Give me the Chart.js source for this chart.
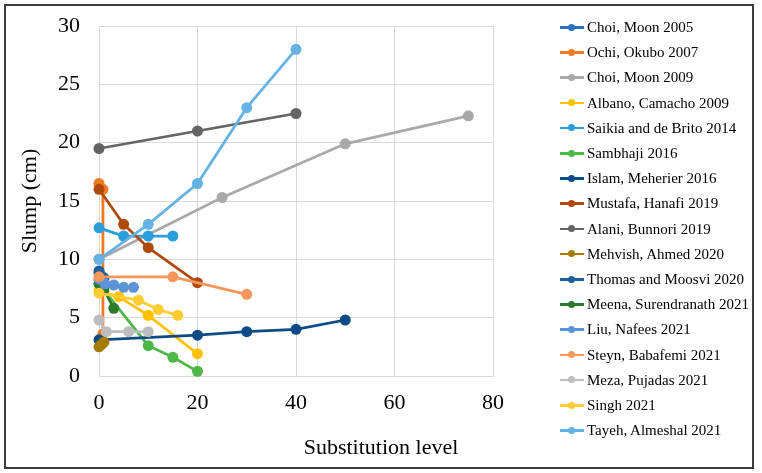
<!DOCTYPE html>
<html>
<head>
<meta charset="utf-8">
<script src="https://cdn.jsdelivr.net/npm/chart.js@4.4.0/dist/chart.umd.min.js"></script>
<style>
  body { margin: 0; background: #fff; }
  #wrap { position: relative; width: 762px; height: 473px; font-family: "Liberation Serif", "Times New Roman", serif; }
  #frame { position: absolute; left: 4px; top: 4px; width: 746px; height: 461px; border: 2px solid #3c3c3c; pointer-events: none; }
  #chart { position: absolute; left: 0; top: 0; }
  #xtitle { position: absolute; top: 434px; left: 0; width: 762px; text-align: center; font-size: 22px; color: #000; }
  #legend { position: absolute; left: 0; top: 0; }
  .item { position: absolute; left: 560px; height: 20px; font-size: 15px; line-height: 20px; color: #000; white-space: nowrap; }
  .mark { position: absolute; left: 0; top: 9px; width: 24px; height: 2.5px; }
  .dot { position: absolute; left: 8px; top: 6.5px; width: 7px; height: 7px; border-radius: 50%; }
  .label { position: absolute; left: 27px; top: 0; }
</style>
</head>
<body>
<div id="wrap">
  <canvas id="chart" width="762" height="473"></canvas>
  <div id="xtitle">Substitution level</div>
  <div id="legend"></div>
  <div id="frame"></div>
</div>
<script>
// series names and colours, in Excel plotting order
const seriesNames = [
  'Choi, Moon 2005', 'Ochi, Okubo 2007', 'Choi, Moon 2009', 'Albano, Camacho 2009',
  'Saikia and de Brito 2014', 'Sambhaji 2016', 'Islam, Meherier 2016', 'Mustafa, Hanafi 2019',
  'Alani, Bunnori 2019', 'Mehvish, Ahmed 2020', 'Thomas and Moosvi 2020', 'Meena, Surendranath 2021',
  'Liu, Nafees 2021', 'Steyn, Babafemi 2021', 'Meza, Pujadas 2021', 'Singh 2021', 'Tayeh, Almeshal 2021'
];
const seriesColors = [
  '#2a72bf', '#f07a22', '#a9a9a9', '#ffc000', '#2a9fdb', '#4db848', '#0d4a86', '#b04a0c',
  '#646464', '#a67c00', '#1f5f9c', '#2c7a2c', '#5d93d8', '#f7965a', '#bdbdbd', '#ffcc33', '#64b3e4'
];

// [substitution level, slump cm]
const choiMoon2005 = [[0, 8.8], [0.5, 8.6]];
const ochiOkubo2007 = [[0, 16.5], [0.8, 16.0], [0.8, 3.6]];
const choiMoon2009 = [[0, 10.0], [25, 15.3], [50, 19.9], [75, 22.3]];
const albanoCamacho2009 = [[0, 7.3], [4, 6.8], [10, 5.2], [20, 1.9]];
const saikiaBrito2014 = [[0, 12.7], [5, 12.0], [10, 12.0], [15, 12.0]];
const sambhaji2016 = [[0, 7.9], [10, 2.6], [15, 1.6], [20, 0.4]];
const islamMeherier2016 = [[0, 3.1], [20, 3.5], [30, 3.8], [40, 4.0], [50, 4.8]];
const mustafaHanafi2019 = [[0, 16.0], [5, 13.0], [10, 11.0], [20, 8.0]];
const alaniBunnori2019 = [[0, 19.5], [20, 21.0], [40, 22.5]];
const mehvishAhmed2020 = [[0, 2.5], [0.5, 2.7], [1, 2.9]];
const thomasMoosvi2020 = [[0, 9.0], [1, 8.4]];
const meenaSurendranath2021 = [[0, 7.9], [1, 7.4], [3, 5.8]];
const liuNafees2021 = [[0, 8.3], [1.2, 7.9], [3, 7.8], [5, 7.6], [7, 7.6]];
const steynBabafemi2021 = [[0, 8.5], [15, 8.5], [30, 7.0]];
const mezaPujadas2021 = [[0, 4.8], [1.5, 3.8], [6, 3.8], [10, 3.8]];
const singh2021 = [[0, 7.1], [8, 6.5], [12, 5.7], [16, 5.2]];
const tayehAlmeshal2021 = [[0, 10.0], [10, 13.0], [20, 16.5], [30, 23.0], [40, 28.0]];

const seriesData = [
  choiMoon2005, ochiOkubo2007, choiMoon2009, albanoCamacho2009, saikiaBrito2014, sambhaji2016,
  islamMeherier2016, mustafaHanafi2019, alaniBunnori2019, mehvishAhmed2020, thomasMoosvi2020,
  meenaSurendranath2021, liuNafees2021, steynBabafemi2021, mezaPujadas2021, singh2021, tayehAlmeshal2021
];

const xTicks = [0, 20, 40, 60, 80];
const yTicks = [0, 5, 10, 15, 20, 25, 30];

const FONT = '"Liberation Serif", "Times New Roman", serif';

const datasets = seriesNames.map((name, i) => ({
  label: name,
  data: seriesData[i].map(p => ({ x: p[0], y: p[1] })),
  showLine: true,
  clip: false,
  borderColor: seriesColors[i],
  backgroundColor: seriesColors[i],
  borderWidth: 2.75,
  pointRadius: 5.5,
  pointBorderWidth: 0,
  // later series on top, like Excel
  order: seriesNames.length - i
}));

new Chart(document.getElementById('chart'), {
  type: 'scatter',
  data: { datasets },
  options: {
    responsive: false,
    animation: false,
    devicePixelRatio: 1,
    layout: { padding: { left: 0, top: 26, right: 269, bottom: 0 } },
    plugins: { legend: { display: false }, tooltip: { enabled: false } },
    scales: {
      x: {
        type: 'linear',
        min: xTicks[0],
        max: xTicks[xTicks.length - 1],
        afterBuildTicks: s => { s.ticks = xTicks.map(v => ({ value: v })); },
        afterFit: s => { s.height = 97; },
        grid: { color: '#d9d9d9', drawTicks: false },
        border: { color: '#d9d9d9' },
        ticks: { padding: 14, color: '#000', font: { family: FONT, size: 22 } }
      },
      y: {
        type: 'linear',
        min: yTicks[0],
        max: yTicks[yTicks.length - 1],
        afterBuildTicks: s => { s.ticks = yTicks.map(v => ({ value: v })); },
        afterFit: s => { s.width = 99; },
        // invisible tick marks keep the labels away from the axis
        grid: { color: '#d9d9d9', drawTicks: true, tickLength: 19, tickColor: 'rgba(0,0,0,0)' },
        border: { color: '#d9d9d9' },
        ticks: { padding: 0, color: '#000', font: { family: FONT, size: 22 } },
        title: {
          display: true, text: 'Slump (cm)', color: '#000',
          font: { family: FONT, size: 22, lineHeight: 1 },
          padding: { top: 19, bottom: 0 }
        }
      }
    }
  }
});

// legend
const legend = document.getElementById('legend');
seriesNames.forEach((name, i) => {
  const item = document.createElement('div');
  item.className = 'item';
  item.style.top = (17 + i * 25.2) + 'px';
  item.innerHTML = '<span class="mark"></span><span class="dot"></span><span class="label"></span>';
  item.querySelector('.mark').style.background = seriesColors[i];
  item.querySelector('.dot').style.background = seriesColors[i];
  item.querySelector('.label').textContent = name;
  legend.appendChild(item);
});
</script>
</body>
</html>
